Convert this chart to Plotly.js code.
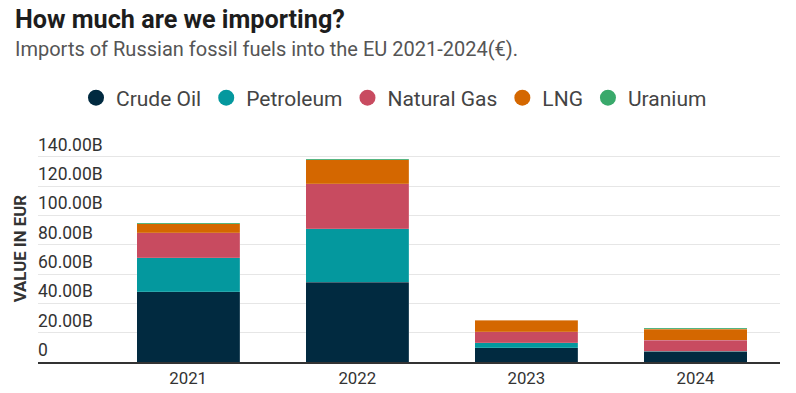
<!DOCTYPE html>
<html>
<head>
<meta charset="utf-8">
<script src="https://cdn.plot.ly/plotly-3.0.1.min.js"></script>
<style>html,body{margin:0;padding:0;background:#fff;}#chart{width:796px;height:393px;}</style>
</head>
<body>
<div id="chart"></div>
<script>
const years = ["2021", "2022", "2023", "2024"];
const crudeOil = [47.8, 54.6, 9.6, 7.3];
const petroleum = [23.5, 36.2, 3.4, 0.2];
const naturalGas = [16.8, 31.0, 7.5, 7.5];
const lng = [6.4, 16.4, 8.0, 7.3];
const uranium = [0.7, 0.4, 0.1, 0.7];
const seriesNames = ["Crude Oil", "Petroleum", "Natural Gas", "LNG", "Uranium"];
const seriesColors = ["#012a40", "#04989e", "#c84b60", "#d46700", "#39a96b"];
const tickValues = [0, 20, 40, 60, 80, 100, 120, 140];
const tickLabels = ["0", "20.00B", "40.00B", "60.00B", "80.00B", "100.00B", "120.00B", "140.00B"];

const seriesData = [crudeOil, petroleum, naturalGas, lng, uranium];
const traces = [];
seriesData.forEach((vals, i) => {
  traces.push({
    type: "bar", x: years, y: vals, name: seriesNames[i],
    marker: {color: seriesColors[i], line: {color: "rgba(255,255,255,0.3)", width: 0.5}},
    width: 0.61, showlegend: false, hoverinfo: "y+name"
  });
});
seriesData.forEach((vals, i) => {
  traces.push({
    type: "scatter", mode: "markers", x: [null], y: [null], name: seriesNames[i],
    marker: {color: seriesColors[i], size: 20, symbol: "circle"}, showlegend: true
  });
});

const L = 38, R = 16, W = 796, T = 149, PH = 213;
const pw = W - L - R;
const px = v => (v - L) / pw;
const py = v => 1 + (T - v) / PH;

const layout = {
  width: 796, height: 393,
  margin: {l: L, r: R, t: T, b: 31},
  barmode: "stack",
  paper_bgcolor: "#fff", plot_bgcolor: "#fff",
  font: {family: "Roboto, sans-serif", color: "#333"},
  showlegend: true,
  legend: {
    orientation: "h", traceorder: "normal", x: px(76), xanchor: "left", y: py(98), yanchor: "middle",
    yref: "paper", font: {size: 21, color: "#444"}, itemclick: false, itemwidth: 30
  },
  xaxis: {
    type: "category", range: [-0.888, 3.5], showgrid: false,
    showline: true, linecolor: "#333", linewidth: 2,
    ticks: "", tickfont: {size: 16.8, color: "#333"}, fixedrange: true
  },
  yaxis: {
    range: [0, 145.4], tickvals: tickValues, ticktext: tickLabels,
    ticklabelposition: "inside top", ticklabeloverflow: "allow", ticklabelstandoff: -3,
    showgrid: true, gridcolor: "#e6e6e6", gridwidth: 1, zeroline: false,
    tickfont: {size: 17.5, color: "#333"}, ticks: "", fixedrange: true
  },
  annotations: [
    {text: "<b>How much are we importing?</b>", xref: "paper", yref: "paper",
     x: px(13), y: py(19.5), xanchor: "left", yanchor: "middle",
     showarrow: false, font: {size: 25.2, color: "#1d1d1d", family: "Roboto, sans-serif"}},
    {text: "Imports of Russian fossil fuels into the EU 2021-2024(€).", xref: "paper", yref: "paper",
     x: px(13), y: py(49), xanchor: "left", yanchor: "middle",
     showarrow: false, font: {size: 20, color: "#555", family: "Roboto, sans-serif"}},
    {text: "<b>VALUE IN EUR</b>", xref: "paper", yref: "paper",
     x: px(20), y: (361.7 - 248) / PH, xanchor: "center", yanchor: "middle", textangle: -90,
     showarrow: false, font: {size: 16.8, color: "#333", family: "Roboto, sans-serif"}}
  ]
};

Plotly.newPlot("chart", traces, layout, {displayModeBar: false, staticPlot: true});
</script>
</body>
</html>
